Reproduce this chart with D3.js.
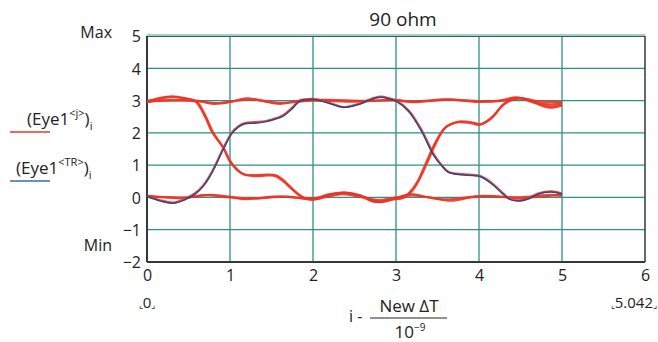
<!DOCTYPE html>
<html>
<head>
<meta charset="utf-8">
<script src="https://cdn.jsdelivr.net/npm/d3@7"></script>
<style>
  body { margin: 0; background: #fff; }
  text { font-family: "Open Sans", "Noto Sans", sans-serif; fill: #222; }
</style>
</head>
<body>
<div id="chart"></div>
<script>
const width = 658;
const height = 342;

// axis ticks
const xTicks = [0, 1, 2, 3, 4, 5, 6];
const yTicks = [-2, -1, 0, 1, 2, 3, 4, 5];

// eye traces (Eye1<j>) as [t, volts]
const traceFallRise = [[0,2.97],[0.15,3.08],[0.3,3.13],[0.45,3.08],[0.58,2.98],[0.7,2.5],[0.78,2.04],[0.92,1.53],[1.0,1.11],[1.14,0.75],[1.3,0.66],[1.45,0.68],[1.55,0.66],[1.65,0.48],[1.75,0.25],[1.86,0.03],[2.0,-0.07],[2.2,0.08],[2.37,0.16],[2.55,0.08],[2.7,-0.1],[2.81,-0.15],[2.95,-0.07],[3.08,-0.02],[3.18,0.2],[3.25,0.45],[3.35,1.0],[3.45,1.58],[3.59,2.15],[3.75,2.33],[3.9,2.3],[4.01,2.25],[4.15,2.45],[4.29,2.86],[4.41,3.03],[4.49,3.06],[4.6,3.02],[4.7,2.9],[4.85,2.78],[5.0,2.85]];
const traceFallRise2 = [[0,2.95],[0.15,3.05],[0.3,3.11],[0.45,3.06],[0.6,2.96],[0.7,2.55],[0.8,2.0],[0.93,1.5],[1.02,1.06],[1.16,0.72],[1.3,0.69],[1.45,0.71],[1.56,0.68],[1.66,0.5],[1.77,0.22],[1.88,0.0],[2.0,-0.05],[2.2,0.1],[2.4,0.13],[2.57,0.05],[2.72,-0.12],[2.83,-0.13],[2.97,-0.04],[3.1,0.0],[3.2,0.22],[3.27,0.5],[3.37,1.04],[3.47,1.62],[3.6,2.18],[3.76,2.35],[3.92,2.32],[4.02,2.27],[4.16,2.5],[4.3,2.9],[4.42,3.05],[4.5,3.08],[4.62,3.0],[4.72,2.92],[4.86,2.82],[5.0,2.88]];
const traceRiseFall = [[0,0.05],[0.15,-0.08],[0.32,-0.16],[0.45,-0.05],[0.58,0.13],[0.68,0.38],[0.78,0.78],[0.92,1.52],[1.02,2.0],[1.1,2.2],[1.18,2.3],[1.3,2.33],[1.42,2.36],[1.54,2.44],[1.64,2.55],[1.75,2.78],[1.84,3.0],[2.0,3.05],[2.15,2.97],[2.37,2.8],[2.55,2.9],[2.7,3.05],[2.81,3.12],[2.92,3.07],[3.0,3.0],[3.15,2.7],[3.31,2.08],[3.45,1.36],[3.55,1.0],[3.63,0.8],[3.79,0.72],[3.92,0.7],[4.01,0.67],[4.1,0.55],[4.19,0.37],[4.3,0.1],[4.37,-0.04],[4.49,-0.09],[4.6,-0.02],[4.71,0.12],[4.87,0.19],[5.0,0.12]];
const traceHigh = [[0,3.0],[0.3,3.0],[0.6,3.0],[0.8,2.9],[1.0,2.96],[1.2,3.07],[1.4,2.98],[1.6,2.9],[1.85,3.0],[2.2,3.02],[2.6,2.99],[3.0,3.02],[3.2,2.97],[3.6,3.04],[4.0,2.96],[4.3,3.0],[4.5,3.08],[4.7,2.98],[5.0,2.95]];
const traceHigh2 = [[0,2.95],[0.3,3.02],[0.6,2.98],[0.85,2.92],[1.25,3.04],[1.6,2.93],[2.0,3.0],[2.5,2.97],[3.0,3.0],[3.2,2.95],[3.65,3.03],[4.0,2.98],[4.25,3.0],[4.45,3.1],[4.65,2.95],[4.85,2.88],[5.0,2.92]];
const traceLow = [[0,0.03],[0.5,0.0],[0.7,0.07],[1.0,0.0],[1.2,-0.05],[1.6,0.03],[2.0,-0.03],[2.37,0.14],[2.6,0.03],[2.8,-0.12],[3.0,-0.02],[3.17,0.1],[3.4,0.0],[3.67,-0.1],[3.9,0.0],[4.11,0.04],[4.4,0.0],[4.6,0.02],[4.87,0.08],[5.0,0.05]];
const traceLow2 = [[0,0.06],[0.4,-0.02],[0.75,0.08],[1.2,-0.03],[1.7,0.02],[2.0,-0.06],[2.35,0.1],[2.6,0.0],[2.8,-0.08],[3.0,0.0],[3.2,0.06],[3.6,-0.06],[4.05,0.05],[4.5,-0.02],[4.9,0.06],[5.0,0.08]];

// Eye1<TR>
const traceTR = [[0,0.03],[0.15,-0.1],[0.32,-0.18],[0.45,-0.08],[0.58,0.1],[0.68,0.35],[0.78,0.75],[0.92,1.5],[1.02,1.97],[1.1,2.18],[1.18,2.28],[1.3,2.3],[1.42,2.34],[1.54,2.42],[1.64,2.52],[1.75,2.75],[1.84,2.98],[2.0,3.03],[2.15,2.95],[2.37,2.79],[2.55,2.88],[2.7,3.03],[2.81,3.1],[2.92,3.05],[3.0,2.98],[3.15,2.67],[3.31,2.04],[3.45,1.32],[3.55,0.98],[3.63,0.78],[3.79,0.7],[3.92,0.68],[4.01,0.65],[4.1,0.52],[4.19,0.34],[4.3,0.08],[4.37,-0.06],[4.49,-0.11],[4.6,-0.04],[4.71,0.1],[4.87,0.17],[5.0,0.1]];

const redTraces = [traceHigh, traceHigh2, traceLow, traceLow2, traceFallRise, traceFallRise2, traceRiseFall];

const svg = d3.select('#chart').append('svg')
    .attr('width', width)
    .attr('height', height);

const x = d3.scaleLinear().domain([0, 6]).range([147, 645]);
const y = d3.scaleLinear().domain([-2, 5]).range([262, 36]);

// grid
svg.append('g').selectAll('line')
    .data(yTicks.filter(d => d > -2 && d < 5))
    .enter().append('line')
    .attr('x1', x(0)).attr('x2', x(6))
    .attr('y1', d => y(d)).attr('y2', d => y(d))
    .attr('stroke', '#2a9189')
    .attr('stroke-width', 1.3);

svg.append('g').selectAll('line')
    .data(xTicks.filter(d => d > 0 && d < 6))
    .enter().append('line')
    .attr('x1', d => x(d)).attr('x2', d => x(d))
    .attr('y1', y(5)).attr('y2', y(-2))
    .attr('stroke', '#2a9189')
    .attr('stroke-width', 1.3);

// frame
svg.append('line')
    .attr('x1', x(0)).attr('x2', x(6)).attr('y1', y(5) - 1).attr('y2', y(5) - 1)
    .attr('stroke', '#7cc2bc').attr('stroke-width', 1.5);
svg.append('line')
    .attr('x1', x(0)).attr('x2', x(6)).attr('y1', y(5) + 0.5).attr('y2', y(5) + 0.5)
    .attr('stroke', '#4a5553').attr('stroke-width', 1);
svg.append('line')
    .attr('x1', x(0)).attr('x2', x(6)).attr('y1', y(-2)).attr('y2', y(-2))
    .attr('stroke', '#2f3b3a').attr('stroke-width', 2);
svg.append('line')
    .attr('x1', x(0)).attr('x2', x(0)).attr('y1', y(5)).attr('y2', y(-2))
    .attr('stroke', '#2f3b3a').attr('stroke-width', 2);
svg.append('line')
    .attr('x1', x(6)).attr('x2', x(6)).attr('y1', y(5)).attr('y2', y(-2))
    .attr('stroke', '#2f3b3a').attr('stroke-width', 1.5);

// axes, tick text only
const yAxis = svg.append('g')
    .attr('transform', 'translate(' + (x(0) - 6) + ',0)')
    .call(d3.axisLeft(y).tickValues(yTicks).tickFormat(d3.format('d')).tickSize(0).tickPadding(0));
yAxis.select('.domain').remove();
yAxis.selectAll('text')
    .attr('font-size', 16)
    .attr('dy', '0.36em')
    .attr('font-family', '"Open Sans", "Noto Sans", sans-serif')
    .attr('fill', '#222');

const xAxis = svg.append('g')
    .attr('transform', 'translate(0,' + y(-2) + ')')
    .call(d3.axisBottom(x).tickValues(xTicks).tickFormat(d3.format('d')).tickSize(0).tickPadding(8));
xAxis.select('.domain').remove();
xAxis.selectAll('text')
    .attr('font-size', 16)
    .attr('font-family', '"Open Sans", "Noto Sans", sans-serif')
    .attr('fill', '#222');

// traces
const line = d3.line()
    .x(d => x(d[0]))
    .y(d => y(d[1]))
    .curve(d3.curveCatmullRom.alpha(0.5));

svg.append('g').selectAll('path')
    .data(redTraces)
    .enter().append('path')
    .attr('d', line)
    .attr('fill', 'none')
    .attr('stroke', '#ec3426')
    .attr('stroke-width', 2.2)
    .attr('stroke-opacity', 0.9);

svg.append('path')
    .attr('d', line(traceTR))
    .attr('fill', 'none')
    .attr('stroke', '#2e4a86')
    .attr('stroke-width', 1.5);

// title
svg.append('text')
    .attr('x', 403).attr('y', 26)
    .attr('text-anchor', 'middle')
    .attr('font-size', 19)
    .text('90 ohm');

svg.append('text').attr('x', 112).attr('y', 38).attr('text-anchor', 'end')
    .attr('font-size', 16).text('Max');
svg.append('text').attr('x', 112).attr('y', 251).attr('text-anchor', 'end')
    .attr('font-size', 16).text('Min');

// range labels
function rangeLabel(cx, cy, value, anchor) {
    const t = svg.append('text').attr('x', cx).attr('y', cy)
        .attr('text-anchor', anchor).attr('font-size', 15);
    t.append('tspan').attr('font-size', 9).text('⌞');
    t.append('tspan').text(value);
    t.append('tspan').attr('font-size', 9).text('⌟');
}
rangeLabel(x(0), 308, '0', 'middle');
rangeLabel(657, 308, '5.042', 'end');

// x label
svg.append('text').attr('x', 349).attr('y', 322).attr('font-size', 16).text('i -');
svg.append('text').attr('x', 409).attr('y', 312).attr('text-anchor', 'middle')
    .attr('font-size', 17).text('New ΔT');
svg.append('line').attr('x1', 370).attr('x2', 447).attr('y1', 318).attr('y2', 318)
    .attr('stroke', '#222').attr('stroke-width', 1.2);
const tenLabel = svg.append('text').attr('x', 410).attr('y', 338).attr('text-anchor', 'middle')
    .attr('font-size', 17);
tenLabel.append('tspan').text('10');
tenLabel.append('tspan').attr('font-size', 10).attr('dy', -7).text('−9');

// legend
function legendLabel(lx, ly, sup, color, lineY) {
    const t = svg.append('text').attr('x', lx).attr('y', ly).attr('font-size', 17);
    t.append('tspan').text('(Eye1');
    t.append('tspan').attr('font-size', 11).attr('dy', -8).text(sup);
    t.append('tspan').attr('dy', 8).text(')');
    t.append('tspan').attr('font-size', 11).attr('dy', 5).text('i');
    svg.append('line').attr('x1', 10).attr('x2', 50).attr('y1', lineY).attr('y2', lineY)
        .attr('stroke', color).attr('stroke-width', 1.5);
}
legendLabel(27, 125, '<j>', '#ec3426', 132);
legendLabel(16, 174, '<TR>', '#3d6aa8', 181);
</script>
</body>
</html>
